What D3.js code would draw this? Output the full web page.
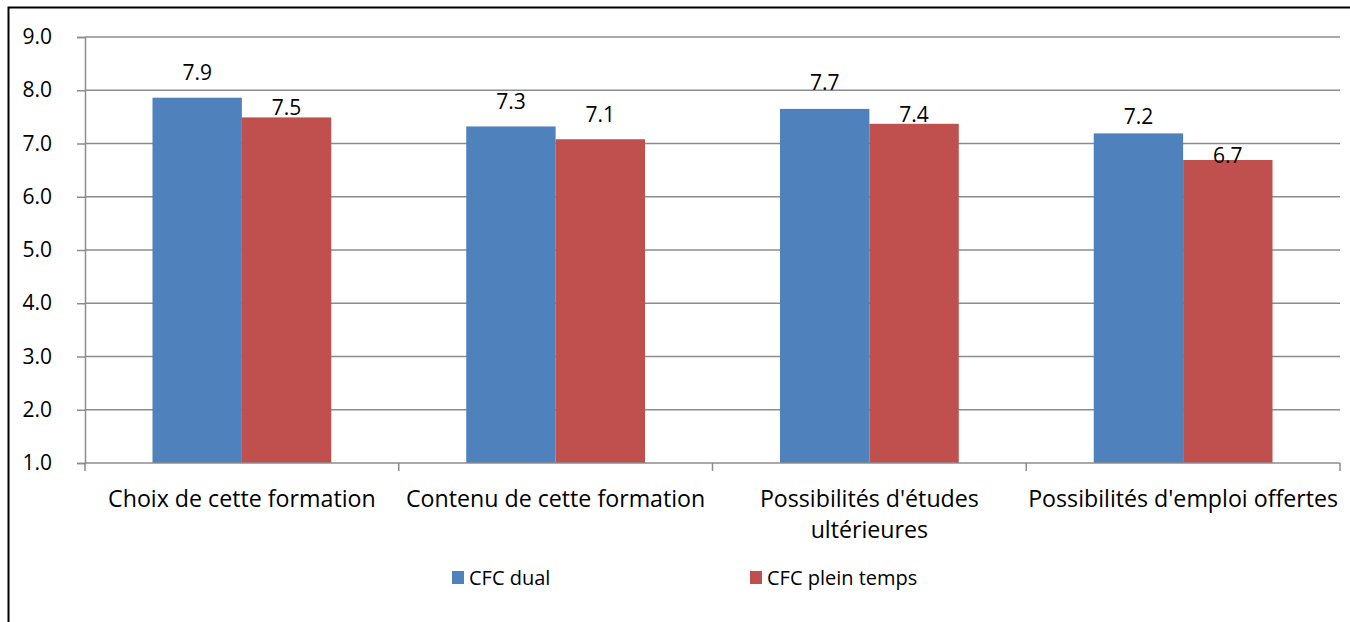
<!DOCTYPE html>
<html><head><meta charset="utf-8">
<script src="https://cdn.jsdelivr.net/npm/d3@7"></script>
<style>body{margin:0;background:#fff}svg{display:block}</style>
</head><body><svg id="c" width="1350" height="622"></svg>
<script>
const categories = [["Choix de cette formation"],["Contenu de cette formation"],["Possibilités d'études","ultérieures"],["Possibilités d'emploi offertes"]];
const seriesNames = ["CFC dual","CFC plein temps"];
const dualValues = [7.86, 7.32, 7.65, 7.19];
const pleinValues = [7.49, 7.08, 7.37, 6.69];
const yTicks = [1,2,3,4,5,6,7,8,9];

const colors = ["#4F81BD","#C0504D"];
const labelGap = [[26,25,27,17],[10,25,10,5]];
const FONT = "'Open Sans', sans-serif";

const svg = d3.select("#c");
const L=85,R=1340,T=37,B=463;
const y = d3.scaleLinear().domain([1,9]).range([B,T]);
const catKeys = categories.map(c=>c.join(" "));
const x = d3.scaleBand().domain(catKeys).range([L,R]).padding(0);
const xs = d3.scaleBand().domain(seriesNames).range([0,x.bandwidth()]).paddingInner(0).paddingOuter(0.755);

svg.append("rect").attr("x",8.5).attr("y",7.5).attr("width",1400).attr("height",700)
  .attr("fill","none").attr("stroke","#000").attr("stroke-width",2);

svg.append("g").selectAll("line").data(yTicks.slice(1)).join("line")
  .attr("x1",L).attr("x2",R).attr("y1",d=>y(d)).attr("y2",d=>y(d))
  .attr("stroke","#8c8c8c").attr("stroke-width",1.5);

const ya = svg.append("g").attr("transform",`translate(${L},0)`)
  .call(d3.axisLeft(y).tickValues(yTicks).tickFormat(d3.format(".1f")).tickSize(8).tickPadding(25));
ya.select(".domain").attr("stroke","#8c8c8c").attr("stroke-width",1.5);
ya.selectAll(".tick line").attr("stroke","#8c8c8c").attr("stroke-width",1.5);
ya.selectAll("text").attr("font-family",FONT).attr("font-size",21).attr("fill","#000");

const series = [dualValues, pleinValues];
series.forEach((vals,si)=>{
  svg.append("g").selectAll("rect").data(vals).join("rect")
    .attr("x",(d,i)=>x(catKeys[i])+xs(seriesNames[si]))
    .attr("width",xs.bandwidth())
    .attr("y",d=>y(d)).attr("height",d=>y(1)-y(d))
    .attr("fill",colors[si]);
});

const xa = svg.append("g").attr("transform",`translate(0,${B})`);
xa.append("line").attr("x1",L).attr("x2",R).attr("stroke","#8c8c8c").attr("stroke-width",1.5);
xa.selectAll(".tk").data(d3.range(catKeys.length+1)).join("line")
  .attr("x1",i=>L+i*x.step()).attr("x2",i=>L+i*x.step()).attr("y1",0).attr("y2",8)
  .attr("stroke","#8c8c8c").attr("stroke-width",1.5);
categories.forEach((lines,i)=>{
  const t = xa.append("text").attr("text-anchor","middle").attr("font-family",FONT).attr("font-size",23.2).attr("fill","#000");
  lines.forEach((ln,j)=>t.append("tspan").attr("x",x(catKeys[i])+x.bandwidth()/2).attr("y",35+j*31).attr("dominant-baseline","central").text(ln));
});

series.forEach((vals,si)=>{
  svg.append("g").selectAll("text").data(vals).join("text")
    .attr("x",(d,i)=>x(catKeys[i])+xs(seriesNames[si])+xs.bandwidth()/2)
    .attr("y",(d,i)=>y(d)-labelGap[si][i])
    .attr("dominant-baseline","central").attr("text-anchor","middle")
    .attr("font-family",FONT).attr("font-size",21).attr("fill","#000")
    .text(d=>d3.format(".1f")(d));
});

const legX = [452, 750];
seriesNames.forEach((n,i)=>{
  svg.append("rect").attr("x",legX[i]).attr("y",571).attr("width",12).attr("height",13).attr("fill",colors[i]);
  svg.append("text").attr("x",legX[i]+17).attr("y",577.5).attr("dominant-baseline","central")
    .attr("font-family",FONT).attr("font-size",20).attr("fill","#000").text(n);
});
</script></body></html>
